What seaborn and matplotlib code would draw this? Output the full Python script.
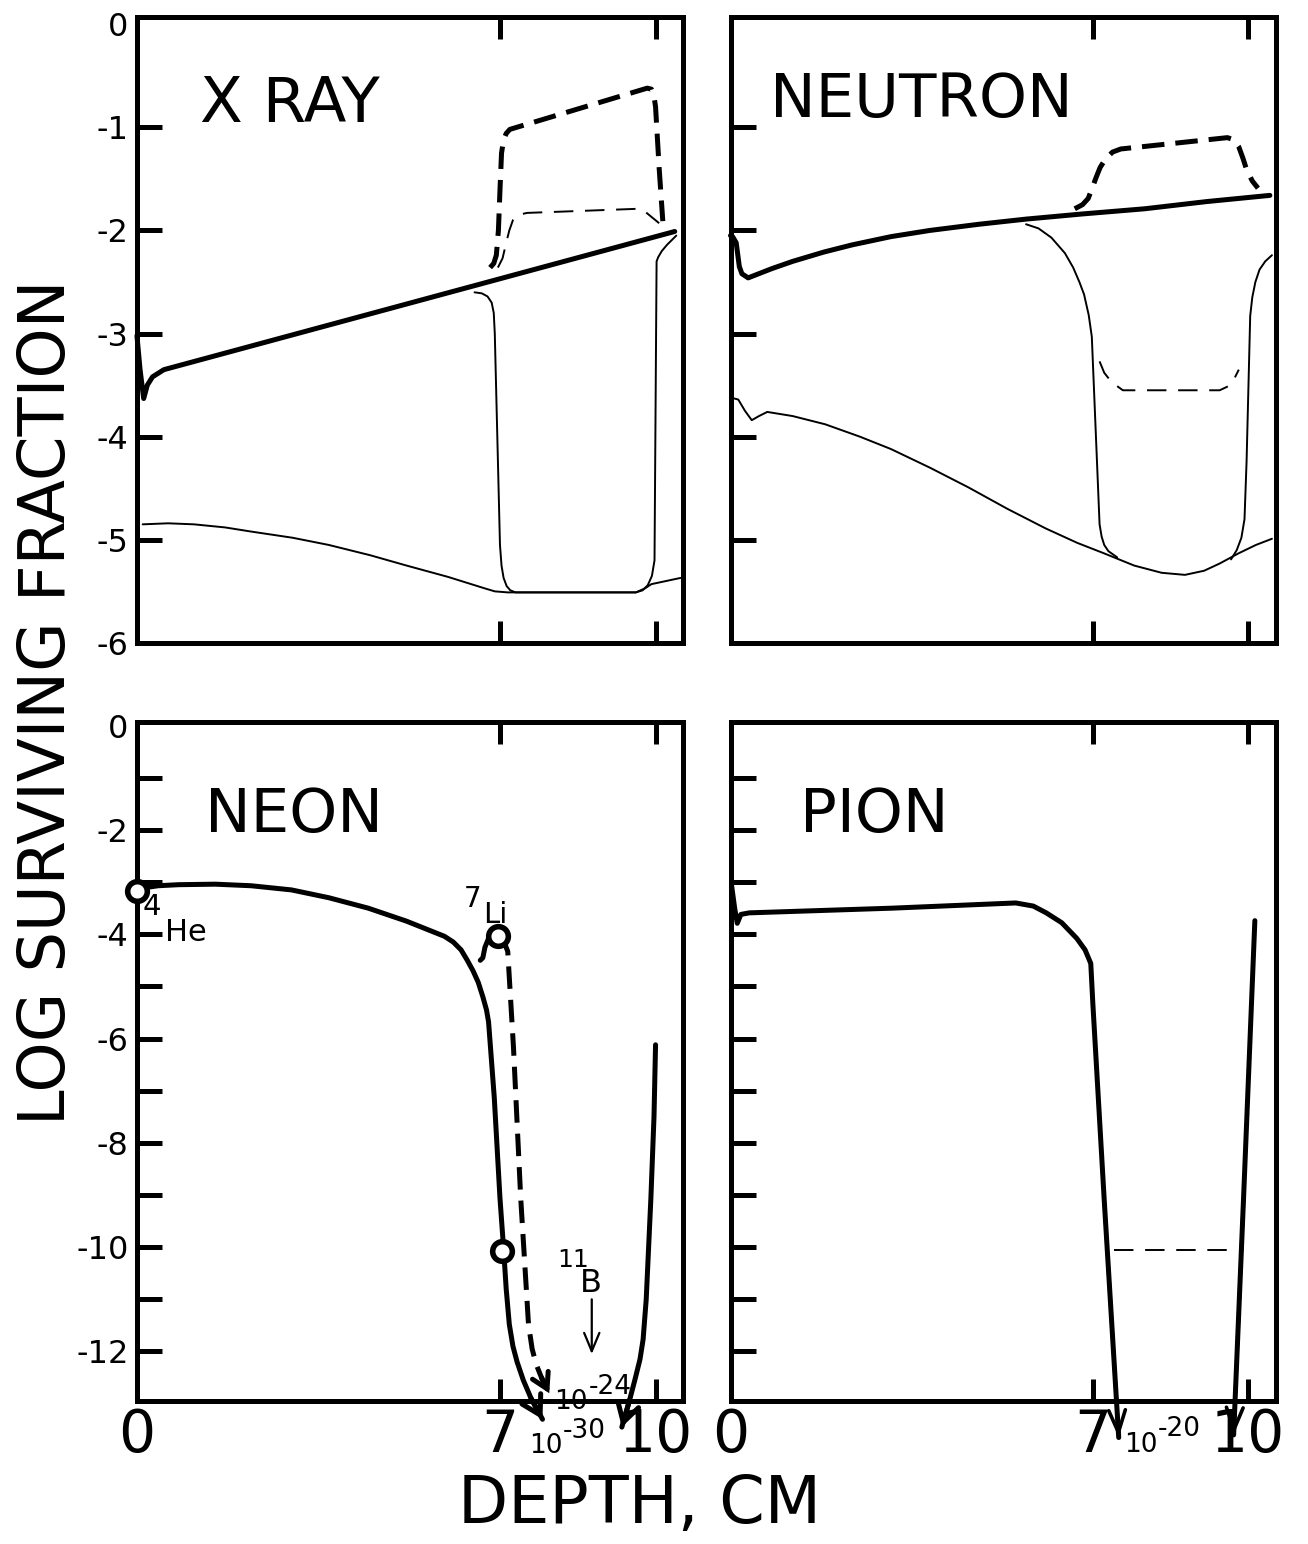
import matplotlib
matplotlib.use('Agg')
import matplotlib.pyplot as plt
import seaborn as sns

sns.set_style('white')
plt.rcParams['font.family'] = ['DejaVu Sans']
plt.rcParams['text.color'] = 'black'
plt.rcParams['xtick.color'] = 'black'
plt.rcParams['ytick.color'] = 'black'
plt.rcParams['axes.labelcolor'] = 'black'

# ---------------- X RAY ----------------
xray_thick_x = [0, 0.06, 0.13, 0.2, 0.3, 0.52, 10.37]
xray_thick_y = [-3.02, -3.35, -3.63, -3.5, -3.42, -3.35, -2.01]
xray_low_x = [0.11, 0.6, 1.1, 1.7, 2.2, 3.0, 3.7, 4.5, 5.2, 6.0, 6.7, 6.9, 7.15, 9.62, 9.8, 9.92, 10.2, 10.48]
xray_low_y = [-4.85, -4.84, -4.85, -4.88, -4.92, -4.98, -5.05, -5.15, -5.25, -5.36, -5.47, -5.5, -5.51, -5.51, -5.47, -5.43, -5.4, -5.37]
xray_box_x = [6.51, 6.65, 6.76, 6.84, 6.88, 6.9, 7.0, 7.03, 7.07, 7.13, 7.2, 7.3, 9.62, 9.75, 9.85, 9.93, 9.98,
              10.02, 10.05, 10.12, 10.22, 10.4]
xray_box_y = [-2.6, -2.61, -2.64, -2.7, -2.8, -3.0, -5.05, -5.25, -5.37, -5.45, -5.49, -5.51, -5.51, -5.49, -5.44,
              -5.35, -5.2, -2.3, -2.26, -2.2, -2.14, -2.05]
xray_dthick_x = [6.81, 6.88, 6.93, 6.97, 7.0, 7.03, 7.07, 7.12, 7.19, 9.84, 9.92, 9.97, 10.0, 10.07, 10.14]
xray_dthick_y = [-2.36, -2.32, -2.24, -2.0, -1.61, -1.25, -1.12, -1.06, -1.02, -0.62, -0.63, -0.7, -0.8, -1.4, -1.91]
xray_dthin_x = [6.96, 7.05, 7.12, 7.18, 7.25, 7.35, 7.52, 9.66, 9.78, 9.9, 10.07]
xray_dthin_y = [-2.36, -2.27, -2.12, -2.0, -1.9, -1.85, -1.83, -1.79, -1.81, -1.86, -1.93]

# ---------------- NEUTRON ----------------
neut_thick_x = [0, 0.04, 0.11, 0.17, 0.22, 0.34, 0.8, 1.2, 1.8, 2.35, 3.1, 3.85, 4.8, 5.71, 6.8, 8.0, 9.2, 10.42]
neut_thick_y = [-2.05, -2.06, -2.12, -2.35, -2.42, -2.46, -2.37, -2.3, -2.21, -2.14, -2.06, -2.0, -1.94, -1.89,
                -1.84, -1.79, -1.72, -1.66]
neut_dthick_x = [6.65, 6.8, 6.91, 6.98, 7.06, 7.14, 7.24, 7.38, 7.54, 9.6, 9.72, 9.82, 9.9, 9.97, 10.08, 10.19]
neut_dthick_y = [-1.79, -1.75, -1.69, -1.6, -1.49, -1.39, -1.31, -1.24, -1.21, -1.1, -1.12, -1.19, -1.3, -1.41,
                 -1.52, -1.59]
neut_low_x = [0.0, 0.15, 0.28, 0.41, 0.55, 0.71, 1.2, 1.83, 2.5, 3.1, 3.85, 4.59, 5.35, 6.09, 6.7, 7.21, 7.8,
              8.33, 8.78, 9.15, 9.45, 9.82, 10.15, 10.46]
neut_low_y = [-3.62, -3.64, -3.75, -3.84, -3.8, -3.76, -3.8, -3.88, -4.0, -4.12, -4.3, -4.49, -4.7, -4.89, -5.03,
              -5.13, -5.25, -5.32, -5.34, -5.3, -5.23, -5.13, -5.05, -4.99]
neut_boxl_x = [5.71, 5.95, 6.2, 6.46, 6.62, 6.74, 6.83, 6.92, 6.98, 7.13, 7.17, 7.22, 7.3, 7.47]
neut_boxl_y = [-1.94, -1.98, -2.07, -2.22, -2.36, -2.5, -2.62, -2.82, -3.03, -4.85, -4.97, -5.05, -5.11, -5.17]
neut_boxr_x = [9.67, 9.78, 9.87, 9.93, 9.97, 10.04, 10.08, 10.14, 10.22, 10.33, 10.46]
neut_boxr_y = [-5.19, -5.1, -4.98, -4.8, -4.24, -2.83, -2.65, -2.5, -2.38, -2.3, -2.24]
neut_dthin_x = [7.13, 7.22, 7.36, 7.58, 9.45, 9.62, 9.73, 9.82]
neut_dthin_y = [-3.27, -3.38, -3.47, -3.55, -3.55, -3.51, -3.44, -3.35]

# ---------------- NEON ----------------
neon_main_x = [0, 0.2, 0.41, 0.8, 1.51, 2.2, 2.98, 3.7, 4.46, 5.2, 5.93, 6.1, 6.25, 6.37, 6.48, 6.58, 6.67,
               6.74, 6.78, 6.89, 7.0, 7.07, 7.12, 7.18, 7.25, 7.33, 7.45, 7.6, 7.82]
neon_main_y = [-3.17, -3.1, -3.07, -3.05, -3.04, -3.07, -3.15, -3.3, -3.5, -3.75, -4.04, -4.15, -4.3, -4.5,
               -4.7, -4.92, -5.2, -5.45, -5.68, -7.13, -9.06, -10.03, -10.8, -11.48, -11.9, -12.2, -12.55,
               -12.9, -13.3]
neon_dash_x = [6.96, 7.08, 7.15, 7.26, 7.4, 7.55, 7.62, 7.7, 7.8, 7.95]
neon_dash_y = [-4.04, -4.15, -4.33, -6.16, -9.06, -11.48, -11.95, -12.25, -12.5, -12.8]
neon_right_x = [10.0, 9.97, 9.91, 9.82, 9.76, 9.7, 9.6, 9.5, 9.35]
neon_right_y = [-6.12, -7.5, -9.06, -11.0, -11.77, -12.15, -12.55, -12.93, -13.45]
neon_hook_x = [6.62, 6.67, 6.71, 6.78]
neon_hook_y = [-4.5, -4.45, -4.25, -4.08]
neon_pts_x = [0.0, 6.96, 7.04]
neon_pts_y = [-3.17, -4.04, -10.08]

# ---------------- PION ----------------
pion_main_x = [0.02, 0.08, 0.13, 0.2, 0.36, 3.12, 5.51, 5.85, 6.1, 6.4, 6.69, 6.85, 6.96, 7.0, 7.22, 7.5]
pion_main_y = [-3.06, -3.5, -3.79, -3.62, -3.59, -3.5, -3.4, -3.46, -3.59, -3.78, -4.08, -4.3, -4.56, -5.33,
               -9.1, -13.65]
pion_right_x = [10.13, 9.91, 9.72]
pion_right_y = [-3.74, -9.1, -13.6]
pion_dash_x = [7.41, 9.8]
pion_dash_y = [-10.05, -10.05]

THICK = 3.6
THIN = 1.4
XMAX = 10.53


def curve(ax, x, y, lw, ls='-'):
    sns.lineplot(x=x, y=y, ax=ax, sort=False, estimator=None,
                 color='black', linewidth=lw, linestyle=ls)


def arrow_tip(ax, x, y, lw=THICK, scale=22, w=0.35, l=0.6):
    ax.annotate('', xy=(x[-1], y[-1]), xytext=(x[-2], y[-2]),
                arrowprops=dict(arrowstyle=f'->,head_length={l},head_width={w}',
                                color='black', lw=lw, shrinkA=0, shrinkB=0,
                                mutation_scale=scale, capstyle='round',
                                joinstyle='miter'),
                annotation_clip=False)


def frame(ax, ymin, yticks, ylabels, xlabels, hide_edge_ticks=()):
    ax.set_xlim(0, XMAX)
    ax.set_ylim(ymin, 0.07)
    for s in ax.spines.values():
        s.set_visible(True)
        s.set_color('black')
        s.set_linewidth(THICK)
    ax.set_xticks([0, 7, 10] if xlabels else [7, 10])
    ax.set_xticklabels(['0', '7', '10'] if xlabels else [])
    ax.set_yticks(yticks)
    ax.set_yticklabels(ylabels if ylabels else [])
    ax.tick_params(axis='x', direction='in', length=16, width=THICK,
                   top=True, bottom=True, labelsize=42, pad=4)
    ax.tick_params(axis='y', direction='in', length=18, width=THICK,
                   left=True, right=False, labelsize=23, pad=6)
    for i in hide_edge_ticks:
        ax.yaxis.get_major_ticks()[i].tick1line.set_visible(False)
    if xlabels:
        ax.xaxis.get_major_ticks()[0].tick1line.set_visible(False)
        ax.xaxis.get_major_ticks()[0].tick2line.set_visible(False)
    ax.set_xlabel('')
    ax.set_ylabel('')
    for ln in ax.lines:
        ln.set_clip_on(False)


fig = plt.figure(figsize=(13.08, 15.44), dpi=100)
ax_x = fig.add_axes([0.1047, 0.5836, 0.4175, 0.4054])
ax_n = fig.add_axes([0.5585, 0.5836, 0.4167, 0.4054])
ax_ne = fig.add_axes([0.1047, 0.0926, 0.4175, 0.4398])
ax_p = fig.add_axes([0.5585, 0.0926, 0.4167, 0.4398])

# X RAY
curve(ax_x, xray_thick_x, xray_thick_y, THICK)
curve(ax_x, xray_low_x, xray_low_y, THIN)
curve(ax_x, xray_box_x, xray_box_y, THIN)
curve(ax_x, xray_dthick_x, xray_dthick_y, THICK, (0, (4.5, 2.2)))
curve(ax_x, xray_dthin_x, xray_dthin_y, THIN, (0, (10, 6)))
top_ticks = [0, -1, -2, -3, -4, -5, -6]
frame(ax_x, -6, top_ticks, ['0', '-1', '-2', '-3', '-4', '-5', '-6'], False,
      hide_edge_ticks=(0, 6))
ax_x.text(0.115, 0.86, 'X RAY', transform=ax_x.transAxes, fontsize=45,
          va='center', ha='left')

# NEUTRON
curve(ax_n, neut_thick_x, neut_thick_y, THICK)
curve(ax_n, neut_dthick_x, neut_dthick_y, THICK, (0, (4.5, 2.2)))
curve(ax_n, neut_low_x, neut_low_y, THIN)
curve(ax_n, neut_boxl_x, neut_boxl_y, THIN)
curve(ax_n, neut_boxr_x, neut_boxr_y, THIN)
curve(ax_n, neut_dthin_x, neut_dthin_y, THIN, (0, (10, 6)))
frame(ax_n, -6, [-1, -2, -3, -4, -5], None, False)
ax_n.text(0.073, 0.866, 'NEUTRON', transform=ax_n.transAxes, fontsize=44,
          va='center', ha='left')

# NEON
bottom_ticks = list(range(0, -13, -1))
bottom_labels = [str(t) if t % 2 == 0 else '' for t in bottom_ticks]
curve(ax_ne, neon_main_x, neon_main_y, THICK)
curve(ax_ne, neon_dash_x, neon_dash_y, THICK, (0, (4.5, 2.2)))
curve(ax_ne, neon_right_x, neon_right_y, THICK)
curve(ax_ne, neon_hook_x, neon_hook_y, THICK)
arrow_tip(ax_ne, neon_main_x, neon_main_y)
arrow_tip(ax_ne, neon_dash_x, neon_dash_y, scale=18)
arrow_tip(ax_ne, neon_right_x, neon_right_y)
sns.scatterplot(x=neon_pts_x, y=neon_pts_y, ax=ax_ne, s=200, color='white',
                edgecolor='black', linewidth=4, zorder=5, clip_on=False)
frame(ax_ne, -12.95, bottom_ticks, bottom_labels, True, hide_edge_ticks=(0,))
ax_ne.text(0.125, 0.863, 'NEON', transform=ax_ne.transAxes, fontsize=44,
           va='center', ha='left')
ax_ne.text(0.11, -3.75, '4', fontsize=21, va='bottom', ha='left')
ax_ne.text(0.55, -4.13, 'He', fontsize=22, va='baseline', ha='left')
ax_ne.text(6.3, -3.6, '7', fontsize=20, va='bottom', ha='left')
ax_ne.text(6.67, -3.78, 'Li', fontsize=21, va='baseline', ha='left')
ax_ne.text(8.1, -10.47, '11', fontsize=18, va='bottom', ha='left')
ax_ne.text(8.55, -10.85, 'B', fontsize=23, va='baseline', ha='left')
ax_ne.annotate('', xy=(8.77, -12.05), xytext=(8.77, -11.0),
               arrowprops=dict(arrowstyle='->,head_length=0.6,head_width=0.25',
                               color='black', lw=1.6, shrinkA=0, shrinkB=0,
                               mutation_scale=22))
ax_ne.text(8.05, -13.1, '10', fontsize=19, va='baseline', ha='left',
           clip_on=False)
ax_ne.text(8.72, -12.82, '-24', fontsize=19, va='baseline', ha='left',
           clip_on=False)
ax_ne.text(7.57, -13.95, '10', fontsize=19, va='baseline', ha='left',
           clip_on=False)
ax_ne.text(8.22, -13.65, '-30', fontsize=19, va='baseline', ha='left',
           clip_on=False)

# PION
curve(ax_p, pion_main_x, pion_main_y, THICK)
curve(ax_p, pion_right_x, pion_right_y, THICK)
curve(ax_p, pion_dash_x, pion_dash_y, THIN, (0, (10, 6)))
arrow_tip(ax_p, pion_main_x, pion_main_y, lw=2.6, scale=20, w=0.3, l=0.8)
arrow_tip(ax_p, pion_right_x, pion_right_y, lw=2.6, scale=20, w=0.3, l=0.8)
frame(ax_p, -12.95, bottom_ticks[1:], None, True)
ax_p.text(0.128, 0.863, 'PION', transform=ax_p.transAxes, fontsize=44,
          va='center', ha='left')
ax_p.text(7.6, -13.92, '10', fontsize=19, va='baseline', ha='left',
          clip_on=False)
ax_p.text(8.26, -13.62, '-20', fontsize=19, va='baseline', ha='left',
          clip_on=False)

fig.text(0.036, 0.545, 'LOG SURVIVING FRACTION', rotation=90, fontsize=46,
         ha='center', va='center')
fig.text(0.489, 0.0253, 'DEPTH, CM', fontsize=47, ha='center', va='center')

fig.savefig('out.png', dpi=100, facecolor='white')
